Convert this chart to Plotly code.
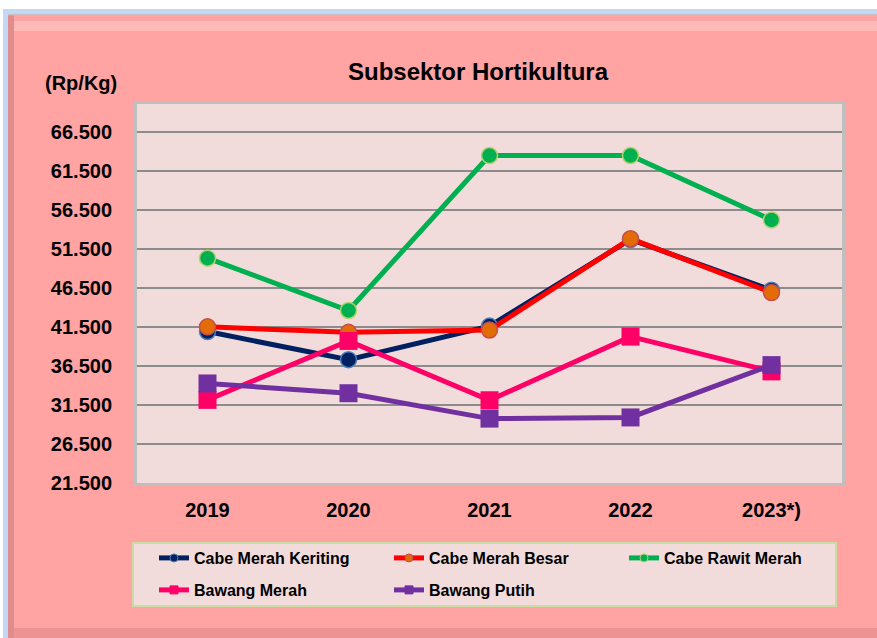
import plotly.graph_objects as go

years = ["2019", "2020", "2021", "2022", "2023*)"]
cabe_merah_keriting = [40900, 37300, 41600, 52700, 46200]
cabe_merah_besar = [41500, 40800, 41100, 52800, 45900]
cabe_rawit_merah = [50300, 43600, 63450, 63450, 55200]
bawang_merah = [32150, 39700, 32100, 40250, 35800]
bawang_putih = [34250, 33000, 29750, 29900, 36600]

tick_vals = [21500, 26500, 31500, 36500, 41500, 46500, 51500, 56500, 61500, 66500]
tick_text = ["21.500", "26.500", "31.500", "36.500", "41.500", "46.500", "51.500", "56.500", "61.500", "66.500"]

series = [
    ("Cabe Merah Keriting", cabe_merah_keriting, "#002060", "circle", "#002060", "#4F81BD", "legend"),
    ("Cabe Merah Besar", cabe_merah_besar, "#FF0000", "circle", "#E36C09", "#C0504D", "legend"),
    ("Cabe Rawit Merah", cabe_rawit_merah, "#00B050", "circle", "#00B050", "#B5D06E", "legend"),
    ("Bawang Merah", bawang_merah, "#FF0066", "square", "#FF0066", "#FF0066", "legend2"),
    ("Bawang Putih", bawang_putih, "#7030A0", "square", "#7030A0", "#7030A0", "legend2"),
]

W, H = 877, 638
L, R, T, B = 137, 842, 104, 483
PW, PH = R - L, B - T
FONT = "Liberation Sans, Arial, sans-serif"


def px(x):
    return (x - L) / PW


def py(y):
    return (B - y) / PH


fig = go.Figure()
for name, vals, lc, sym, mc, mlc, lg in series:
    size = 16 if sym == "circle" else 18
    fig.add_trace(go.Scatter(
        x=years, y=vals, name=name, mode="lines+markers",
        line=dict(color=lc, width=5),
        marker=dict(symbol=sym, size=size, color=mc, line=dict(color=mlc, width=1.5 if sym == "circle" else 0)),
        showlegend=False,
    ))
for name, vals, lc, sym, mc, mlc, lg in series:
    fig.add_trace(go.Scatter(
        x=[None], y=[None], name="<b>" + name + "</b>", mode="lines+markers",
        line=dict(color=lc, width=5),
        marker=dict(symbol=sym, size=8, color=mc, line=dict(color=mlc, width=1)),
        showlegend=True, legend=lg,
    ))

shapes = []
shapes.append(dict(type="rect", xref="paper", yref="paper", x0=px(0), x1=px(W), y0=py(0), y1=py(14), fillcolor="white", line_width=0, layer="below"))
shapes.append(dict(type="rect", xref="paper", yref="paper", x0=px(0), x1=px(7), y0=py(0), y1=py(H), fillcolor="white", line_width=0, layer="below"))
shapes.append(dict(type="rect", xref="paper", yref="paper", x0=px(3), x1=px(W), y0=py(9), y1=py(14), fillcolor="#C3D8F5", line_width=0, layer="below"))
shapes.append(dict(type="rect", xref="paper", yref="paper", x0=px(3), x1=px(8), y0=py(9), y1=py(H), fillcolor="#C3D8F5", line_width=0, layer="below"))
shapes.append(dict(type="rect", xref="paper", yref="paper", x0=px(8), x1=px(W), y0=py(14), y1=py(15.5), fillcolor="#C8C0C0", line_width=0, layer="below"))
shapes.append(dict(type="rect", xref="paper", yref="paper", x0=px(14), x1=px(W), y0=py(21), y1=py(31), fillcolor="#FFB9B9", line_width=0, layer="below"))
shapes.append(dict(type="rect", xref="paper", yref="paper", x0=px(8), x1=px(14), y0=py(15.5), y1=py(H), fillcolor="#E08C8C", line_width=0, layer="below"))
shapes.append(dict(type="rect", xref="paper", yref="paper", x0=px(14), x1=px(W), y0=py(628), y1=py(H), fillcolor="#EE9393", line_width=0, layer="below"))
shapes.append(dict(type="rect", xref="paper", yref="paper", x0=px(133), x1=px(836), y0=py(606), y1=py(543), fillcolor="#F2DCDB", line=dict(color="#C9DCA4", width=2), layer="below"))

legend_common = dict(
    orientation="h", xref="container", yref="container", xanchor="left", yanchor="middle",
    bgcolor="rgba(0,0,0,0)", borderwidth=0,
    font=dict(size=16, family=FONT, color="black"),
    entrywidth=190, entrywidthmode="pixels", traceorder="normal", itemwidth=30,
)

fig.update_layout(
    width=W, height=H,
    margin=dict(l=L, r=W - R, t=T, b=H - B, pad=0),
    paper_bgcolor="#FFA3A3",
    plot_bgcolor="#F2DCDB",
    font=dict(family=FONT, color="black"),
    title=dict(text="<b>Subsektor Hortikultura</b>", x=478 / W, xanchor="center", xref="container",
               y=1 - 72 / H, yanchor="middle", font=dict(size=24)),
    shapes=shapes,
    showlegend=True,
    legend=dict(x=154 / W, y=1 - 558 / H, **legend_common),
    legend2=dict(x=154 / W, y=1 - 590 / H, **legend_common),
    annotations=[dict(text="<b>(Rp/Kg)</b>", xref="paper", yref="paper", x=px(81), y=py(83),
                      xanchor="center", yanchor="middle", showarrow=False, font=dict(size=20))],
)
fig.update_xaxes(
    range=[-0.5, 4.5],
    showgrid=False, showline=True, mirror=True, linecolor="#BFBFBF", linewidth=3,
    tickfont=dict(size=20), ticks="", ticklabelstandoff=7, fixedrange=True,
    tickvals=years, ticktext=["<b>" + y + "</b>" for y in years],
)
fig.update_yaxes(
    range=[21500, 70050], tickvals=tick_vals, ticktext=["<b>" + t + "</b>" for t in tick_text],
    showgrid=True, gridcolor="#8C8C8C", gridwidth=1.5, zeroline=False,
    showline=True, mirror=True, linecolor="#BFBFBF", linewidth=3,
    tickfont=dict(size=20), ticks="", ticklabelstandoff=18, fixedrange=True,
)

fig.write_html("out.html", config={"displayModeBar": False},
               post_script="document.body.style.margin='0';document.body.style.padding='0';")
